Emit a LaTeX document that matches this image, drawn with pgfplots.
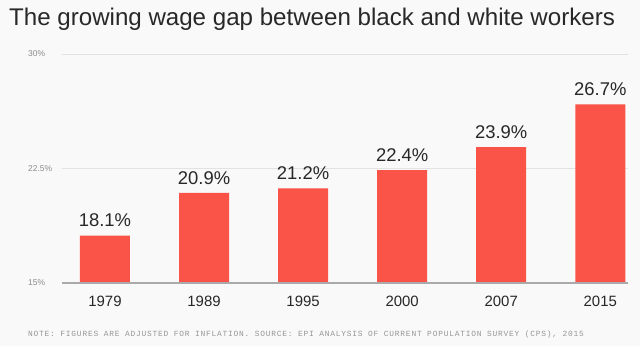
\documentclass[border=0pt]{standalone}
\usepackage{pgfplots}
\pgfplotsset{compat=1.18}
\usepackage{fontspec}
\setmainfont{Liberation Sans}
\newfontfamily\notefont[LetterSpace=10]{Liberation Mono}
\definecolor{bg}{RGB}{249,249,249}
\definecolor{barred}{RGB}{250,84,72}
\definecolor{gridc}{RGB}{226,226,226}
\definecolor{basec}{RGB}{170,170,170}
\definecolor{txt}{RGB}{40,40,40}
\definecolor{ticktxt}{RGB}{140,140,140}
\definecolor{notec}{RGB}{150,150,150}
\begin{document}
\begin{tikzpicture}[x=1bp,y=1bp]
\fill[bg] (0,0) rectangle (640,346);
\node[anchor=west, text=txt, font=\fontsize{24.2}{27}\selectfont, inner sep=0pt] at (9,327) {The growing wage gap between black and white workers};
\node[anchor=west, text=notec, font=\notefont\fontsize{7.9}{9}\selectfont, inner sep=0pt] at (28,12) {NOTE: FIGURES ARE ADJUSTED FOR INFLATION. SOURCE: EPI ANALYSIS OF CURRENT POPULATION SURVEY (CPS), 2015};
\begin{axis}[
  at={(62bp,63bp)}, anchor=south west,
  scale only axis, width=566bp, height=229bp,
  xmin=-0.434, xmax=5.28, ymin=15, ymax=30,
  axis lines=none,
  ybar, bar width=50bp,
  xtick=data, xticklabels={1979,1989,1995,2000,2007,2015},
  ytick=\empty,
  clip=false,
  /pgf/number format/assume math mode=true,
  nodes near coords={\pgfmathprintnumber[fixed,precision=1,fixed zerofill,assume math mode=true]{\pgfplotspointmeta}\%},
  every node near coord/.append style={text=txt, font=\fontsize{18.5}{20}\selectfont, yshift=5bp},
]
\draw[gridc, line width=1pt] (axis cs:-0.434,30) -- (axis cs:5.28,30);
\draw[gridc, line width=1pt] (axis cs:-0.434,22.5) -- (axis cs:5.28,22.5);
\addplot[fill=barred, draw=none] coordinates {(0,18.1) (1,20.9) (2,21.2) (3,22.4) (4,23.9) (5,26.7)};
\draw[basec, line width=1.5pt] (axis cs:-0.434,15) -- (axis cs:5.28,15);
\foreach \v/\l in {30/30\%, 22.5/22.5\%, 15/15\%} {
  \edef\tmp{\noexpand\node[anchor=west, text=ticktxt, font=\noexpand\fontsize{8.5}{10}\noexpand\selectfont, inner sep=0pt] at ([xshift=-34bp]axis cs:-0.434,\v) {\l};}
  \tmp
}
\foreach \i/\y in {0/1979,1/1989,2/1995,3/2000,4/2007,5/2015} {
  \edef\tmp{\noexpand\node[text=txt, font=\noexpand\fontsize{15}{17}\noexpand\selectfont, inner sep=0pt] at ([yshift=-18bp]axis cs:\i,15) {\y};}
  \tmp
}
\end{axis}
\end{tikzpicture}
\end{document}
